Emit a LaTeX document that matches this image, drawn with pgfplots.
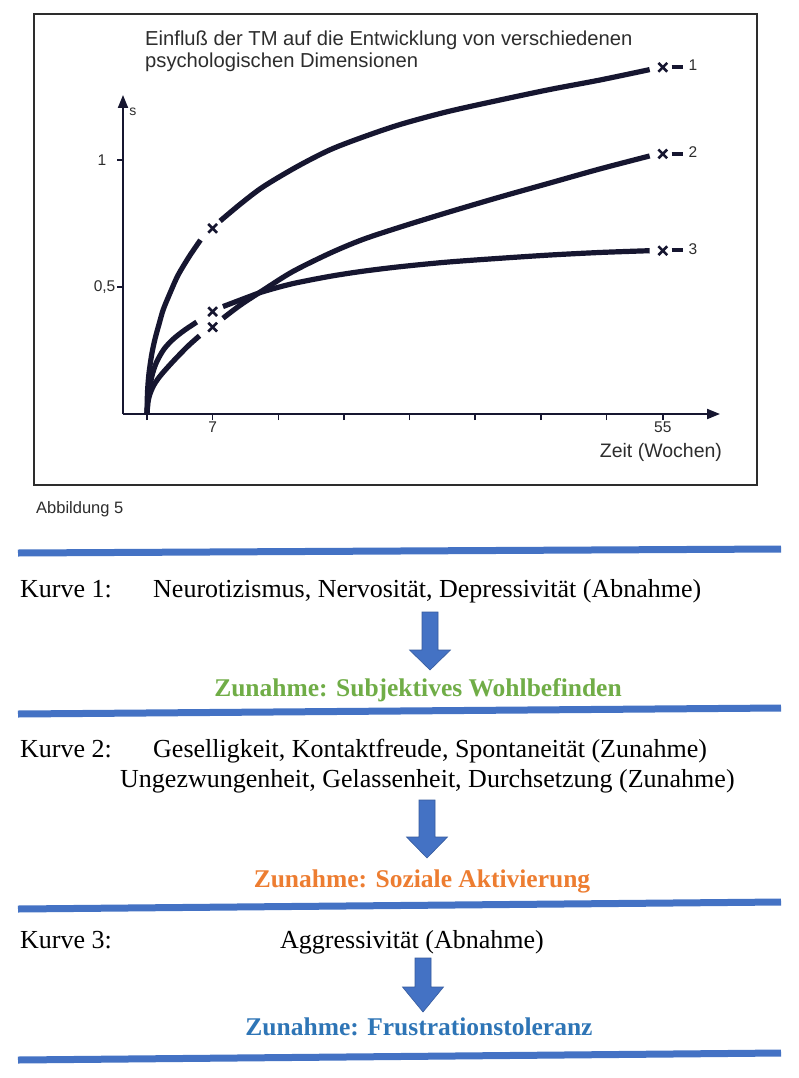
\documentclass[border=0pt]{standalone}
\usepackage{fontspec}
\setmainfont{Liberation Serif}
\newfontfamily\chartfont{Liberation Sans}
\usepackage{pgfplots}
\pgfplotsset{compat=1.18}
\usetikzlibrary{arrows.meta}

\definecolor{ink}{RGB}{22,22,48}
\definecolor{textgray}{RGB}{45,45,45}
\definecolor{barblue}{RGB}{68,114,196}
\definecolor{headgreen}{RGB}{112,173,71}
\definecolor{headorange}{RGB}{237,125,49}
\definecolor{headblue}{RGB}{46,117,182}

\newcommand{\fs}[1]{\fontsize{#1}{#1}\selectfont}
% dash and curve number after the end mark
\newcommand{\curvetag}[1]{{\color{ink}\rule[1.7pt]{11.5pt}{4pt}}\hspace{5.5pt}#1}

\begin{document}
\begin{tikzpicture}
\path[use as bounding box, fill=white] (0pt,0pt) rectangle (798pt,-1078pt);

\begin{axis}[
  at={(123pt,-414pt)}, anchor=south west,
  scale only axis, width=597pt, height=319pt,
  xmin=-2.56, xmax=61.1, ymin=0, ymax=1.256,
  axis lines=left,
  axis line style={ink, line width=2pt},
  x axis line style={-{Triangle[length=13pt,width=10pt]}},
  y axis line style={-{Triangle[length=13pt,width=10pt]}},
  xtick={0,7,14,21,28,35,42,49,55},
  xticklabels={,7,,,,,,,55},
  ytick={0.5,1},
  yticklabels={{0,5},{1\kern9pt}},
  tick align=outside, major tick length=6pt,
  tick style={ink, line width=1.5pt},
  ticklabel style={font=\chartfont\fs{15.5}, text=textgray, inner sep=1.5pt},
  clip=false,
]

% Kurve 1
\addplot[ink, line width=5.2pt, smooth] coordinates {
  (0,0) (0.05,0.085) (0.2,0.157) (0.5,0.234) (0.85,0.295) (1.3,0.356)
  (1.74,0.412) (2.5,0.48) (3.3,0.546) (4.5,0.62) (5.7,0.685)
};
\addplot[ink, line width=5.2pt, smooth] coordinates {
  (7.8,0.76) (10,0.828) (12.4,0.895) (16,0.974) (19.5,1.04) (23,1.09)
  (27,1.14) (32,1.19) (37.6,1.236) (43,1.278) (48.3,1.315) (53.6,1.356)
};

% Kurve 2
\addplot[ink, line width=5.2pt, smooth] coordinates {
  (0,0) (0.1,0.045) (0.3,0.077) (0.7,0.112) (1.2,0.14) (1.7,0.163)
  (2.6,0.2) (3.5,0.235) (4.5,0.272) (5.6,0.308)
};
\addplot[ink, line width=5.2pt, smooth] coordinates {
  (8.1,0.377) (10,0.43) (12.4,0.488) (15.5,0.56) (19.5,0.633) (23,0.687)
  (27,0.736) (32,0.793) (37.6,0.854) (43,0.91) (48.3,0.965) (53.6,1.016)
};

% Kurve 3
\addplot[ink, line width=5.2pt, smooth] coordinates {
  (0,0) (0.1,0.06) (0.3,0.11) (0.6,0.16) (1.03,0.205) (1.8,0.255)
  (2.8,0.295) (4,0.33) (5.3,0.362)
};
\addplot[ink, line width=5.2pt, smooth] coordinates {
  (8.1,0.423) (10.6,0.458) (12.4,0.482) (15.5,0.513) (19.5,0.542) (23,0.562)
  (27,0.58) (32,0.598) (37.6,0.613) (43,0.626) (48.3,0.636) (53.6,0.643)
};

% Messpunkte
\addplot[ink, only marks, mark=x, mark size=6.2pt, line width=2.6pt] coordinates {
  (7,0.731) (55,1.365)
  (7,0.342) (55,1.024)
  (7,0.403) (55,0.643)
};

\node[anchor=base west, inner sep=0pt, xshift=8.5pt, yshift=-3.4pt,
      font=\chartfont\fs{15.5}, text=textgray] at (axis cs:55,1.365) {\curvetag{1}};
\node[anchor=base west, inner sep=0pt, xshift=8.5pt, yshift=-3.4pt,
      font=\chartfont\fs{15.5}, text=textgray] at (axis cs:55,1.024) {\curvetag{2}};
\node[anchor=base west, inner sep=0pt, xshift=8.5pt, yshift=-3.4pt,
      font=\chartfont\fs{15.5}, text=textgray] at (axis cs:55,0.643) {\curvetag{3}};

\node[font=\chartfont\fs{14}, text=textgray] at (axis cs:-1.5,1.19) {s};
\node[font=\chartfont\fs{19.5}, text=textgray] at (axis cs:54.8,-0.15) {Zeit (Wochen)};
\end{axis}

\begin{scope}[x=1pt, y=-1pt]
  % Rahmen der Abbildung
  \draw[textgray, line width=1.5pt] (34,14) rectangle (757,485);
  \node[anchor=base west, inner sep=0pt, font=\chartfont\fs{20.2}, text=textgray]
    at (145,46) {Einfluß der TM auf die Entwicklung von verschiedenen};
  \node[anchor=base west, inner sep=0pt, font=\chartfont\fs{20.2}, text=textgray]
    at (145,68) {psychologischen Dimensionen};
  \node[anchor=base west, inner sep=0pt, font=\chartfont\fs{16.5}, text=textgray]
    at (36,513) {Abbildung 5};

  % blaue Trennlinien
  \draw[barblue, line width=7pt] (18,553) -- (781,549);
  \draw[barblue, line width=7pt] (18,714) -- (781,708);
  \draw[barblue, line width=7pt] (18,909) -- (781,902);
  \draw[barblue, line width=7pt] (18,1060) -- (781,1053);

  % Kurve 1
  \node[anchor=base west, inner sep=0pt, font=\fs{26}] at (20,597) {Kurve 1:};
  \node[anchor=base west, inner sep=0pt, font=\fs{26}] at (153,597)
    {Neurotizismus, Nervosität, Depressivität (Abnahme)};
  \filldraw[fill=barblue, draw=barblue!80!black, line width=0.6pt]
    (422,612) -- (438,612) -- (438,650) -- (450.5,650) -- (430,670)
    -- (409.5,650) -- (422,650) -- cycle;
  \node[anchor=base, inner sep=0pt, font=\bfseries\fs{25.5}, text=headgreen]
    at (418,696) {Zunahme: Subjektives Wohlbefinden};

  % Kurve 2
  \node[anchor=base west, inner sep=0pt, font=\fs{26}] at (20,757) {Kurve 2:};
  \node[anchor=base west, inner sep=0pt, font=\fs{26}] at (153,757)
    {Geselligkeit, Kontaktfreude, Spontaneität (Zunahme)};
  \node[anchor=base west, inner sep=0pt, font=\fs{26}] at (120,787)
    {Ungezwungenheit, Gelassenheit, Durchsetzung (Zunahme)};
  \filldraw[fill=barblue, draw=barblue!80!black, line width=0.6pt]
    (419,800) -- (435,800) -- (435,837) -- (447.5,837) -- (427,858)
    -- (406.5,837) -- (419,837) -- cycle;
  \node[anchor=base, inner sep=0pt, font=\bfseries\fs{25.5}, text=headorange]
    at (422,887) {Zunahme: Soziale Aktivierung};

  % Kurve 3
  \node[anchor=base west, inner sep=0pt, font=\fs{26}] at (20,948) {Kurve 3:};
  \node[anchor=base west, inner sep=0pt, font=\fs{26}] at (280,948)
    {Aggressivität (Abnahme)};
  \filldraw[fill=barblue, draw=barblue!80!black, line width=0.6pt]
    (415,958) -- (431,958) -- (431,987) -- (443.5,987) -- (423,1012)
    -- (402.5,987) -- (415,987) -- cycle;
  \node[anchor=base, inner sep=0pt, font=\bfseries\fs{25.5}, text=headblue]
    at (419,1035) {Zunahme: Frustrationstoleranz};
\end{scope}
\end{tikzpicture}
\end{document}
